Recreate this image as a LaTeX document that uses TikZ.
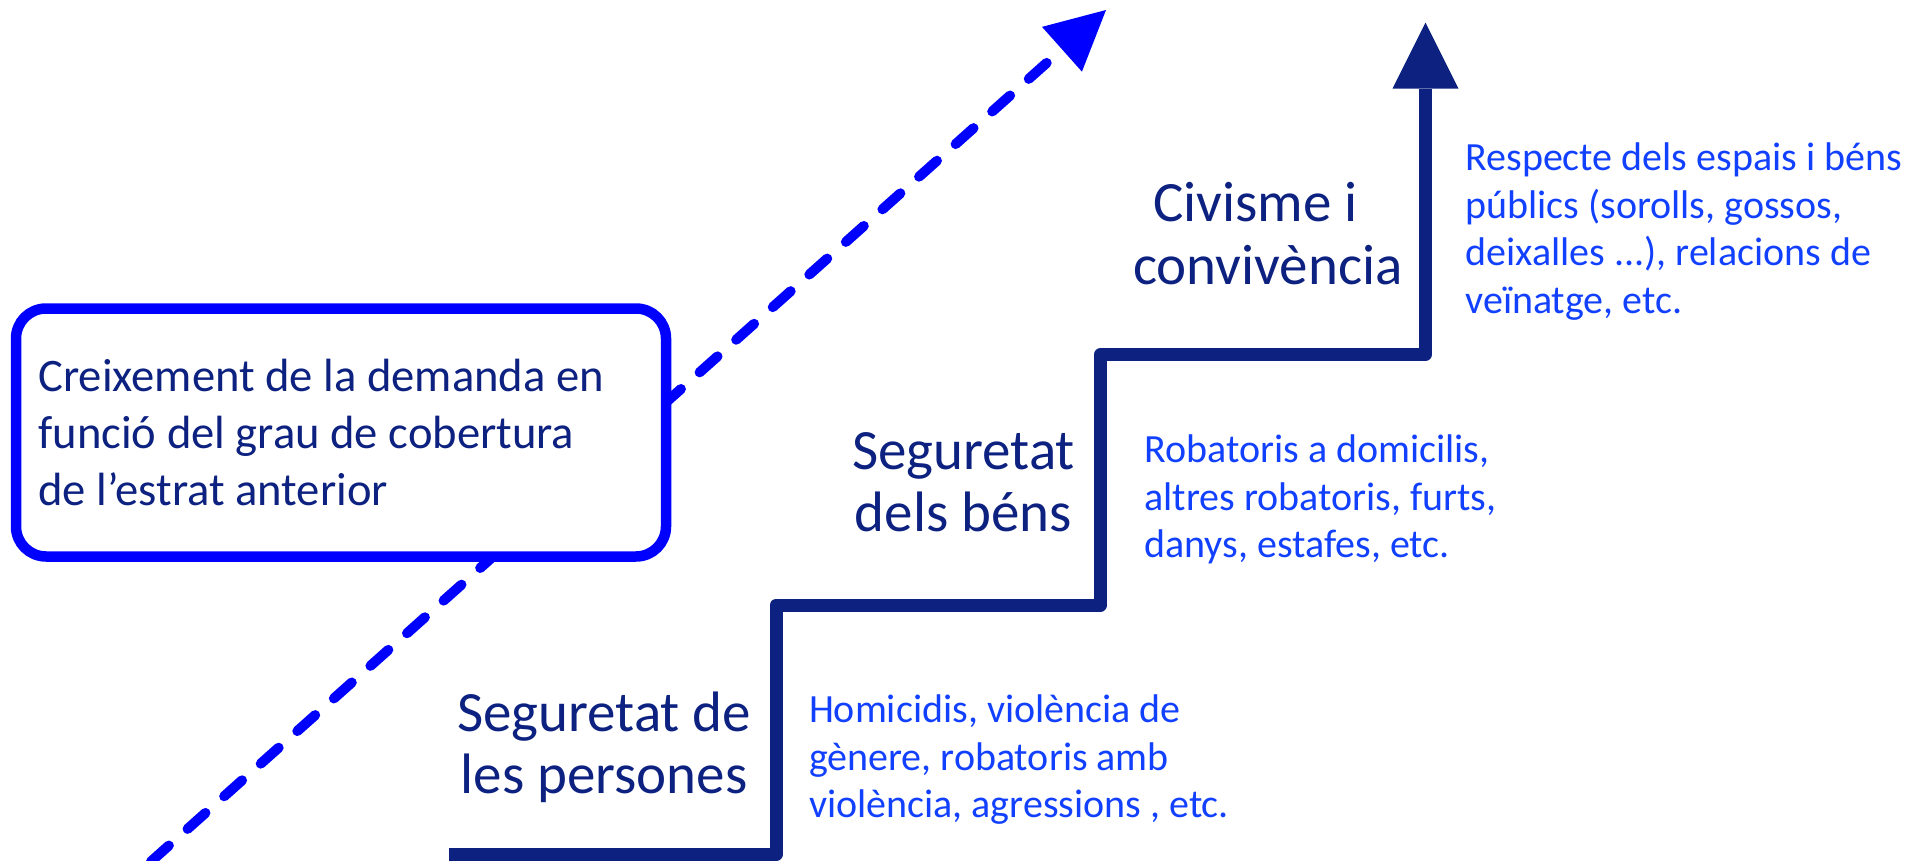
\documentclass[tikz,border=0pt]{standalone}
\usepackage{fontspec}
\setmainfont{Carlito}
\usetikzlibrary{arrows.meta}
\definecolor{navy}{RGB}{12,33,128}
\definecolor{bluetxt}{RGB}{18,64,255}
\definecolor{pureblue}{RGB}{0,0,255}
\tikzset{
  big/.style={inner sep=0pt, text=navy, font=\fontsize{28.5}{31.5}\selectfont},
  boxtxt/.style={inner sep=0pt, anchor=base west, text=navy, font=\fontsize{23.3}{28.5}\selectfont},
  desc/.style={inner sep=0pt, anchor=base west, text=bluetxt, font=\fontsize{20}{23.75}\selectfont},
  stair/.style={draw=navy, line width=6.5pt, line join=round,
    -{Triangle[width=33pt,length=33pt,line width=0pt]}},
  dasharrow/.style={draw=pureblue, line width=5pt, line cap=round, dash pattern=on 12pt off 12.5pt,
    -{Triangle[width=30pt,length=29.5pt,line width=0pt]}},
  demandbox/.style={draw=pureblue, fill=white, line width=5.25pt, rounded corners=15pt,
    minimum width=325pt, minimum height=124pt, inner sep=0pt}
}
\begin{document}
\begin{tikzpicture}[x=0.5pt,y=-0.5pt]
\useasboundingbox[fill=white] (0,0) rectangle (1926,861);

% dashed growth arrow
\coordinate (ds) at (151,861.5);
\coordinate (de) at (1106,10);
\draw[dasharrow] (ds) -- (de);

% box
\node[demandbox] (box) at (341,432.5) {};
\node[boxtxt] (bt1) at (38,391.7) {Creixement de la demanda en};
\node[boxtxt] (bt2) at (38,448.7) {funció del grau de cobertura};
\node[boxtxt] (bt3) at (38,505.7) {de l’estrat anterior};

% staircase
\coordinate (s0) at (448.7,854.5);
\coordinate (s1) at (776,854.5);
\coordinate (s2) at (776,605);
\coordinate (s3) at (1100.5,605);
\coordinate (s4) at (1100.5,354.5);
\coordinate (s5) at (1425.5,354.5);
\coordinate (s6) at (1425.5,22.7);
\draw[stair] (s0) -- (s1) -- (s2) -- (s3) -- (s4) -- (s5) -- (s6);

% stage labels
\node[big, anchor=base] (p1a) at (604,731.7) {Seguretat de};
\node[big, anchor=base] (p1b) at (604,793.3) {les persones};
\node[big, anchor=base] (p2a) at (963.5,469.3) {Seguretat};
\node[big, anchor=base] (p2b) at (963.5,531.7) {dels béns};
\node[big, anchor=base west] (p3a) at (1152.7,221.7) {Civisme i};
\node[big, anchor=base west] (p3b) at (1132.7,285) {convivència};

% descriptions
\node[desc] (d1a) at (808.6,722.7) {Homicidis, violència de};
\node[desc] (d1b) at (808.6,770.2) {gènere, robatoris amb};
\node[desc] (d1c) at (808.6,817.7) {violència, agressions , etc.};

\node[desc] (d2a) at (1144,462.3) {Robatoris a domicilis,};
\node[desc] (d2b) at (1144,510) {altres robatoris, furts,};
\node[desc] (d2c) at (1144,557.3) {danys, estafes, etc.};

\node[desc] (d3a) at (1465,170.7) {Respecte dels espais i béns};
\node[desc] (d3b) at (1465,218.2) {públics (sorolls, gossos,};
\node[desc] (d3c) at (1465,265.7) {deixalles ...), relacions de};
\node[desc] (d3d) at (1465,313.2) {veïnatge, etc.};
\end{tikzpicture}
\end{document}
